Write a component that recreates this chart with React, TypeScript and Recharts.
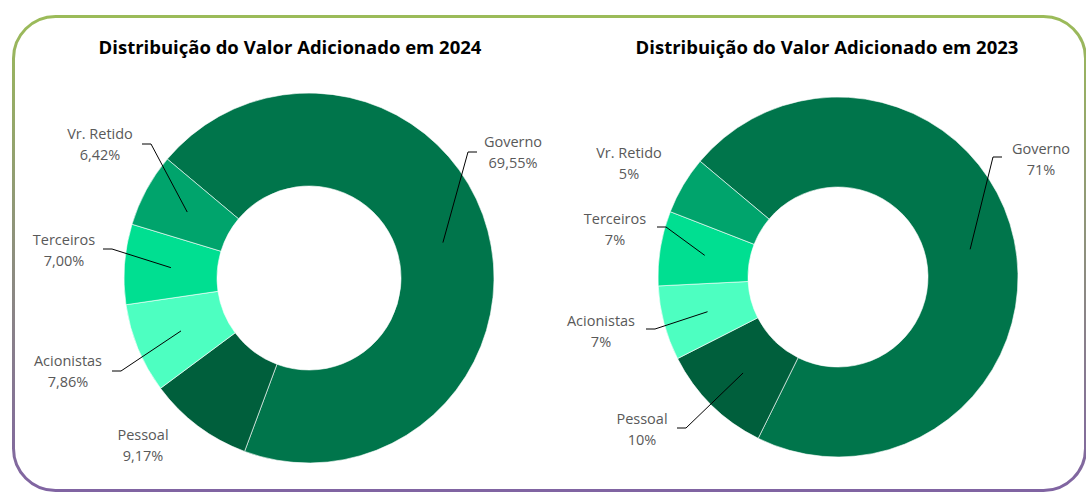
import React from 'react';
import { PieChart, Pie, Cell } from 'recharts';

const categories = ['Governo', 'Pessoal', 'Acionistas', 'Terceiros', 'Vr. Retido'];
const values2024 = [69.55, 9.17, 7.86, 7.0, 6.42];
const values2023 = [71.2, 10.2, 6.7, 6.7, 5.2];
const colors = ['#00754B', '#005F3C', '#4DFFC1', '#00DF91', '#00A46C'];

const data2024 = categories.map((name, i) => ({ name, value: values2024[i] }));
const data2023 = categories.map((name, i) => ({ name, value: values2023[i] }));

// label placement relative to the pie centre: text centre (tx, ty), leader elbow (lx, ly)
type LabelPos = { tx: number; ty: number; lx?: number; ly?: number };

const layout2024: LabelPos[] = [
  { tx: 204, ty: -126, lx: 168, ly: -126 },
  { tx: -166, ty: 167 },
  { tx: -241, ty: 93, lx: -197, ly: 93 },
  { tx: -245, ty: -28, lx: -206, ly: -29 },
  { tx: -209, ty: -134, lx: -167, ly: -134 },
];

const layout2023: LabelPos[] = [
  { tx: 203, ty: -118, lx: 164, ly: -120 },
  { tx: -196, ty: 152, lx: -161, ly: 151 },
  { tx: -237, ty: 54, lx: -192, ly: 52 },
  { tx: -223, ty: -48, lx: -181, ly: -50 },
  { tx: -209, ty: -114 },
];

const RAD = Math.PI / 180;

function makeLabel(layout: LabelPos[], decimals: number) {
  return (props: any) => {
    const { cx, cy, midAngle, innerRadius, outerRadius, index, name, value } = props;
    const pos = layout[index];
    const r = (innerRadius + outerRadius) / 2;
    const px = cx + r * Math.cos(-midAngle * RAD);
    const py = cy + r * Math.sin(-midAngle * RAD);
    const tx = cx + pos.tx;
    const ty = cy + pos.ty;
    const txt = value.toFixed(decimals).replace('.', ',') + '%';
    let line = null;
    if (pos.lx !== undefined && pos.ly !== undefined) {
      const ex = cx + pos.lx;
      const ey = cy + pos.ly;
      const ex2 = ex + (pos.lx < 0 ? 9 : -9);
      line = (
        <polyline
          points={`${ex},${ey} ${ex2},${ey} ${px},${py}`}
          fill="none"
          stroke="#000"
          strokeWidth={1}
        />
      );
    }
    return (
      <g>
        {line}
        <text
          x={tx}
          y={ty}
          textAnchor="middle"
          fill="#595959"
          fontSize={14.5}
          fontFamily="Open Sans, sans-serif"
        >
          <tspan x={tx} dy={-5}>{name}</tspan>
          <tspan x={tx} dy={21}>{txt}</tspan>
        </text>
      </g>
    );
  };
}

const titleStyle: React.CSSProperties = {
  position: 'absolute',
  top: 35,
  fontFamily: 'Open Sans, sans-serif',
  fontWeight: 700,
  fontSize: 18.5,
  lineHeight: '24px',
  color: '#000',
  textAlign: 'center',
  width: 440,
};

export default function App() {
  return (
    <div style={{ position: 'absolute', left: 0, top: 0, width: 1086, height: 492, background: '#fff', overflow: 'hidden' }}>
      <svg width={1086} height={492} style={{ position: 'absolute', left: 0, top: 0 }}>
        <defs>
          <linearGradient id="frame" x1="0" y1="0" x2="0" y2="1">
            <stop offset="0%" stopColor="#9BBB59" />
            <stop offset="100%" stopColor="#8064A2" />
          </linearGradient>
        </defs>
        <rect x={13.5} y={16.5} width={1072} height={474} rx={42} ry={42} fill="none" stroke="url(#frame)" strokeWidth={3} />
      </svg>
      <div style={{ ...titleStyle, left: 290 - 220 }}>Distribuição do Valor Adicionado em 2024</div>
      <div style={{ ...titleStyle, left: 827 - 220 }}>Distribuição do Valor Adicionado em 2023</div>
      <div style={{ position: 'absolute', left: 0, top: 0 }}>
        <PieChart width={1086} height={492} margin={{ top: 0, right: 0, bottom: 0, left: 0 }}>
          <Pie
            data={data2024}
            dataKey="value"
            nameKey="name"
            cx={309}
            cy={278}
            innerRadius={92}
            outerRadius={185}
            startAngle={140}
            endAngle={-220}
            stroke="#ffffff"
            strokeWidth={0.6}
            labelLine={false}
            label={makeLabel(layout2024, 2)}
            isAnimationActive={false}
          >
            {data2024.map((d, i) => (
              <Cell key={d.name} fill={colors[i]} />
            ))}
          </Pie>
          <Pie
            data={data2023}
            dataKey="value"
            nameKey="name"
            cx={838}
            cy={277}
            innerRadius={90}
            outerRadius={180}
            startAngle={140}
            endAngle={-220}
            stroke="#ffffff"
            strokeWidth={0.6}
            labelLine={false}
            label={makeLabel(layout2023, 0)}
            isAnimationActive={false}
          >
            {data2023.map((d, i) => (
              <Cell key={d.name} fill={colors[i]} />
            ))}
          </Pie>
        </PieChart>
      </div>
    </div>
  );
}
